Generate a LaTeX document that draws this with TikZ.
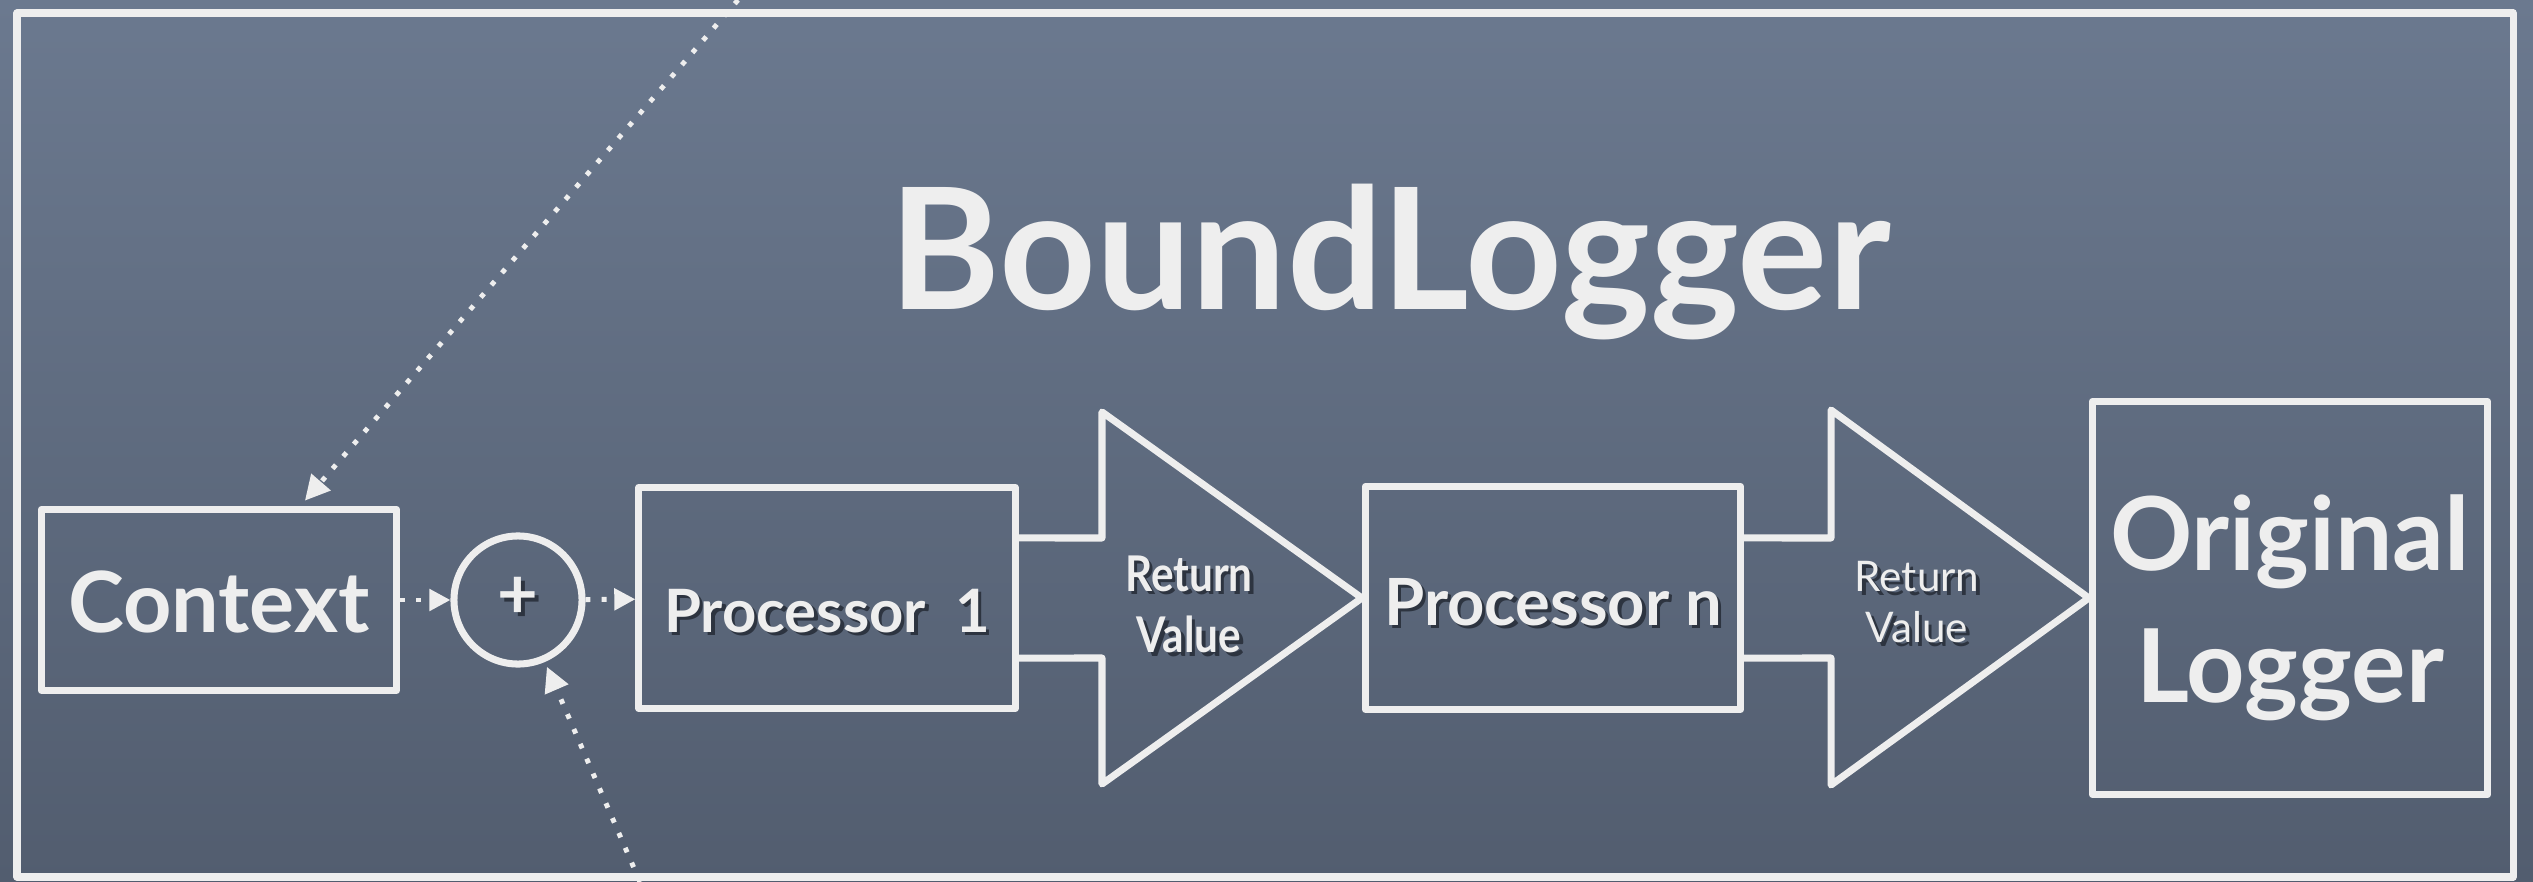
\documentclass[tikz,border=0pt]{standalone}
\usepackage{fontspec}
\setmainfont{Lato}
\newfontfamily\condfont[FakeStretch=0.86]{Lato}
\usepackage{tikz}
\usetikzlibrary{arrows.meta}

\definecolor{bgtop}{RGB}{107,121,143}
\definecolor{bgbot}{RGB}{82,93,111}
\definecolor{chalk}{RGB}{238,238,238}
\definecolor{shadowc}{RGB}{45,52,64}

% 带阴影的文字
\newcommand{\shtext}[1]{\leavevmode\rlap{\hspace{1pt}\raisebox{-1pt}{\color{shadowc}#1}}#1}

\begin{document}
\begin{tikzpicture}[x=0.01cm, y=-0.01cm,
    chalkline/.style={draw=chalk, line width=2pt, line join=round},
    chalkbox/.style={chalkline, text=chalk, inner sep=0pt, align=center},
    dotarrow/.style={draw=chalk, line width=1.4pt, dash pattern=on 1.4pt off 3.2pt,
                     -{Triangle[length=7pt,width=7pt]}}]
    % 背景与外框
    \useasboundingbox (0,0) rectangle (2533,882);
    \fill[top color=bgtop, bottom color=bgbot] (0,0) rectangle (2533,882);
    \draw[chalkline] (17,13) rectangle (2513,877);

    % 标题（下沿被裁掉）
    \begin{scope}
        \clip (0,0) rectangle (2533,345);
        \node[text=chalk, font=\fontsize{48}{50}\selectfont\bfseries, anchor=base] (title) at (1390,310) {BoundLogger};
    \end{scope}

    % 各个方框
    \node[chalkbox, minimum width=3.55cm, minimum height=1.81cm, text height=0.64cm, text depth=0pt,
          font=\fontsize{24}{28}\selectfont\bfseries] (ctx) at (219,600) {Context};
    \node[chalkbox, circle, minimum size=1.28cm, font=\fontsize{20}{22}\selectfont\bfseries] (plus) at (518,600) {\shtext{+}};
    \node[chalkbox, minimum width=3.76cm, minimum height=2.21cm, text height=0.68cm, text depth=0pt,
          font=\fontsize{17}{19}\selectfont\bfseries] (p1) at (827,598) {\shtext{Processor\ \ 1}};
    \node[chalkbox, minimum width=3.75cm, minimum height=2.23cm, text height=0.54cm, text depth=0pt,
          font=\fontsize{18.5}{21}\selectfont\bfseries] (pn) at (1553,598) {\shtext{Processor n}};
    \node[chalkbox, minimum width=3.95cm, minimum height=3.93cm] (orig) at (2290,598) {};
    \node[text=chalk, align=center, font=\fontsize{29}{37.5}\selectfont\bfseries] (origtext)
        at ([yshift=-0.1cm]orig.center) {Original\\Logger};

    % 返回值箭头
    \draw[chalkline] ([yshift=0.6cm]p1.east) -- (1102,538) -- (1102,412) -- (pn.west)
        -- (1102,784) -- (1102,658) -- ([yshift=-0.6cm]p1.east);
    \draw[chalkline] ([yshift=0.6cm]pn.east) -- (1831,538) -- (1831,410) -- (orig.west)
        -- (1831,785) -- (1831,658) -- ([yshift=-0.6cm]pn.east);
    \node[text=chalk, align=center, font=\condfont\bfseries\fontsize{14}{17.5}\selectfont] (rv1) at (1189,606) {\shtext{Return}\\\shtext{Value}};
    \node[text=chalk, align=center, font=\fontsize{12}{14.5}\selectfont] (rv2) at (1917,604) {\shtext{Return}\\\shtext{Value}};

    % 虚线箭头
    \coordinate (ctxsrc) at (738,0);
    \coordinate (plussrc) at (640,882);
    \draw[dotarrow, shorten >=2pt] (ctxsrc) -- (ctx);
    \draw[dotarrow, shorten >=1.5pt] (plussrc) -- (plus);
    \draw[dotarrow, -{Triangle[length=6pt,width=6pt]}] (ctx) -- (plus);
    \draw[dotarrow, -{Triangle[length=6pt,width=6pt]}] (plus) -- (p1);
\end{tikzpicture}
\end{document}
